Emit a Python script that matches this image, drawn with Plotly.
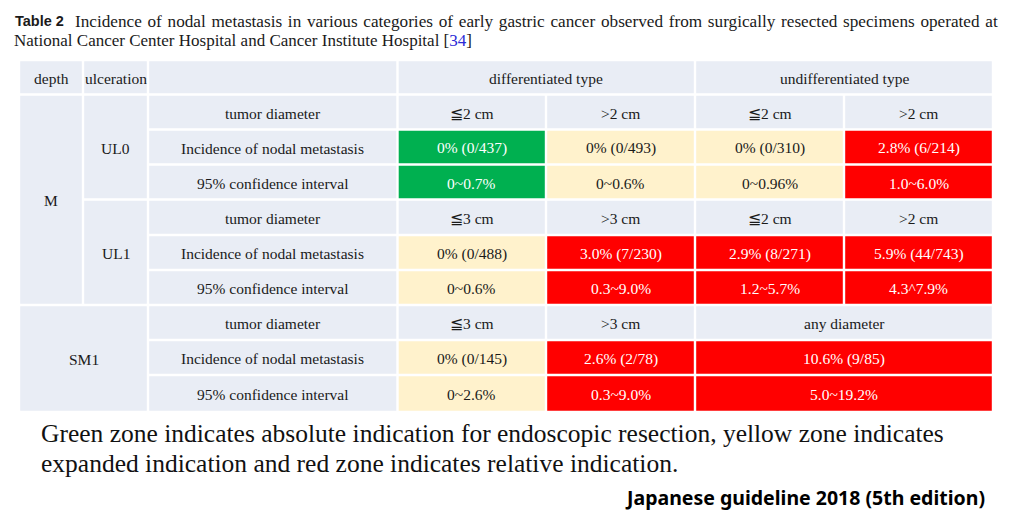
import plotly.graph_objects as go

# ---- table content ----
header_labels = ["depth", "ulceration", "", "differentiated type", "undifferentiated type"]
depth_labels = ["M", "SM1"]
ulceration_labels = ["UL0", "UL1"]
row_labels = ["tumor diameter", "Incidence of nodal metastasis", "95% confidence interval"]

diameters = [
    ["≦2 cm", ">2 cm", "≦2 cm", ">2 cm"],
    ["≦3 cm", ">3 cm", "≦2 cm", ">2 cm"],
    ["≦3 cm", ">3 cm", "any diameter"],
]
incidence = [
    ["0% (0/437)", "0% (0/493)", "0% (0/310)", "2.8% (6/214)"],
    ["0% (0/488)", "3.0% (7/230)", "2.9% (8/271)", "5.9% (44/743)"],
    ["0% (0/145)", "2.6% (2/78)", "10.6% (9/85)"],
]
conf_int = [
    ["0~0.7%", "0~0.6%", "0~0.96%", "1.0~6.0%"],
    ["0~0.6%", "0.3~9.0%", "1.2~5.7%", "4.3^7.9%"],
    ["0~2.6%", "0.3~9.0%", "5.0~19.2%"],
]
zones = [
    ["green", "yellow", "yellow", "red"],
    ["yellow", "red", "red", "red"],
    ["yellow", "red", "red"],
]
# how many data columns each entry covers
spans = [
    [1, 1, 1, 1],
    [1, 1, 1, 1],
    [1, 1, 2],
]

caption_line1 = "Incidence of nodal metastasis in various categories of early gastric cancer observed from surgically resected specimens operated at"
caption_line2 = "National Cancer Center Hospital and Cancer Institute Hospital "
note_line1 = "Green zone indicates absolute indication for endoscopic resection, yellow zone indicates"
note_line2 = "expanded indication and red zone indicates relative indication."
source_text = "Japanese guideline 2018 (5th edition)"

# ---- styling ----
zone_fill = {"green": "#00B050", "yellow": "#FFF2CC", "red": "#FF0000", "head": "#E9EDF5"}
zone_text = {"green": "white", "yellow": "#1a1a1a", "red": "white", "head": "#1a1a1a"}
serif = "Liberation Serif, Times New Roman, serif"

# grid (page pixels)
col_edges = [19, 83, 148, 397.5, 546, 695, 844, 993]
row_edges = [60, 94.5, 129.5, 164.5, 199.5, 235, 270, 305, 340, 375, 412]
gap = 2.4

fig = go.Figure()
fig.add_trace(go.Scatter(x=[], y=[], showlegend=False))


def cell(r0, r1, c0, c1, text, zone, size=15.5):
    x0 = col_edges[c0] + gap / 2
    x1 = col_edges[c1 + 1] - gap / 2
    y0 = row_edges[r0] + gap / 2
    y1 = row_edges[r1 + 1] - gap / 2
    fig.add_shape(type="rect", x0=x0, x1=x1, y0=y0, y1=y1, xref="x", yref="y",
                  fillcolor=zone_fill[zone], line_width=0, layer="below")
    if text:
        fig.add_annotation(x=(x0 + x1) / 2, y=(y0 + y1) / 2 + 1, text=text, showarrow=False,
                           xref="x", yref="y", xanchor="center", yanchor="middle",
                           font=dict(family=serif, size=size, color=zone_text[zone]))


# header row
cell(0, 0, 0, 0, header_labels[0], "head")
cell(0, 0, 1, 1, header_labels[1], "head")
cell(0, 0, 2, 2, header_labels[2], "head")
cell(0, 0, 3, 4, header_labels[3], "head")
cell(0, 0, 5, 6, header_labels[4], "head")

# depth / ulceration blocks
cell(1, 6, 0, 0, depth_labels[0], "head")
cell(1, 3, 1, 1, ulceration_labels[0], "head")
cell(4, 6, 1, 1, ulceration_labels[1], "head")
cell(7, 9, 0, 1, depth_labels[1], "head")

# body
for g in range(3):
    r = 1 + 3 * g
    for k, lab in enumerate(row_labels):
        cell(r + k, r + k, 2, 2, lab, "head")
    c = 3
    for j, sp in enumerate(spans[g]):
        cell(r, r, c, c + sp - 1, diameters[g][j], "head")
        cell(r + 1, r + 1, c, c + sp - 1, incidence[g][j], zones[g][j])
        cell(r + 2, r + 2, c, c + sp - 1, conf_int[g][j], zones[g][j])
        c += sp

# caption (first line is justified in the original, so widen the word gaps a little)
wide_gap = " \u200a"
fig.add_annotation(x=13, y=20.5, text="<b>Table 2</b>", showarrow=False, xanchor="left", yanchor="middle",
                   font=dict(family="Liberation Sans, Arial, sans-serif", size=14.5, color="#1a1a1a"))
fig.add_annotation(x=73, y=21, text=caption_line1.replace(" ", wide_gap), showarrow=False,
                   xanchor="left", yanchor="middle",
                   font=dict(family=serif, size=17.2, color="#1a1a1a"))
fig.add_annotation(x=12, y=40, text=caption_line2 + "[<span style='color:#2b2bd6'>34</span>]",
                   showarrow=False, xanchor="left", yanchor="middle",
                   font=dict(family=serif, size=17, color="#1a1a1a"))

# note and source
fig.add_annotation(x=39, y=433.5, text=note_line1, showarrow=False, xanchor="left", yanchor="middle",
                   font=dict(family=serif, size=25.5, color="#111111"))
fig.add_annotation(x=39, y=463.5, text=note_line2, showarrow=False, xanchor="left", yanchor="middle",
                   font=dict(family=serif, size=25.5, color="#111111"))
fig.add_annotation(x=987, y=497, text="<b>" + source_text + "</b>", showarrow=False,
                   xanchor="right", yanchor="middle",
                   font=dict(family="Noto Sans, Open Sans, sans-serif", size=19.5, color="#000000"))

fig.update_xaxes(range=[0, 1009], visible=False, fixedrange=True)
fig.update_yaxes(range=[521, 0], visible=False, fixedrange=True)
fig.update_layout(width=1009, height=521, margin=dict(l=0, r=0, t=0, b=0),
                  paper_bgcolor="white", plot_bgcolor="white", showlegend=False)

# drop the browser's default body margin so the page lines up with the figure
fig.write_html("out.html", config={"displayModeBar": False},
               post_script="document.body.style.margin='0';")
